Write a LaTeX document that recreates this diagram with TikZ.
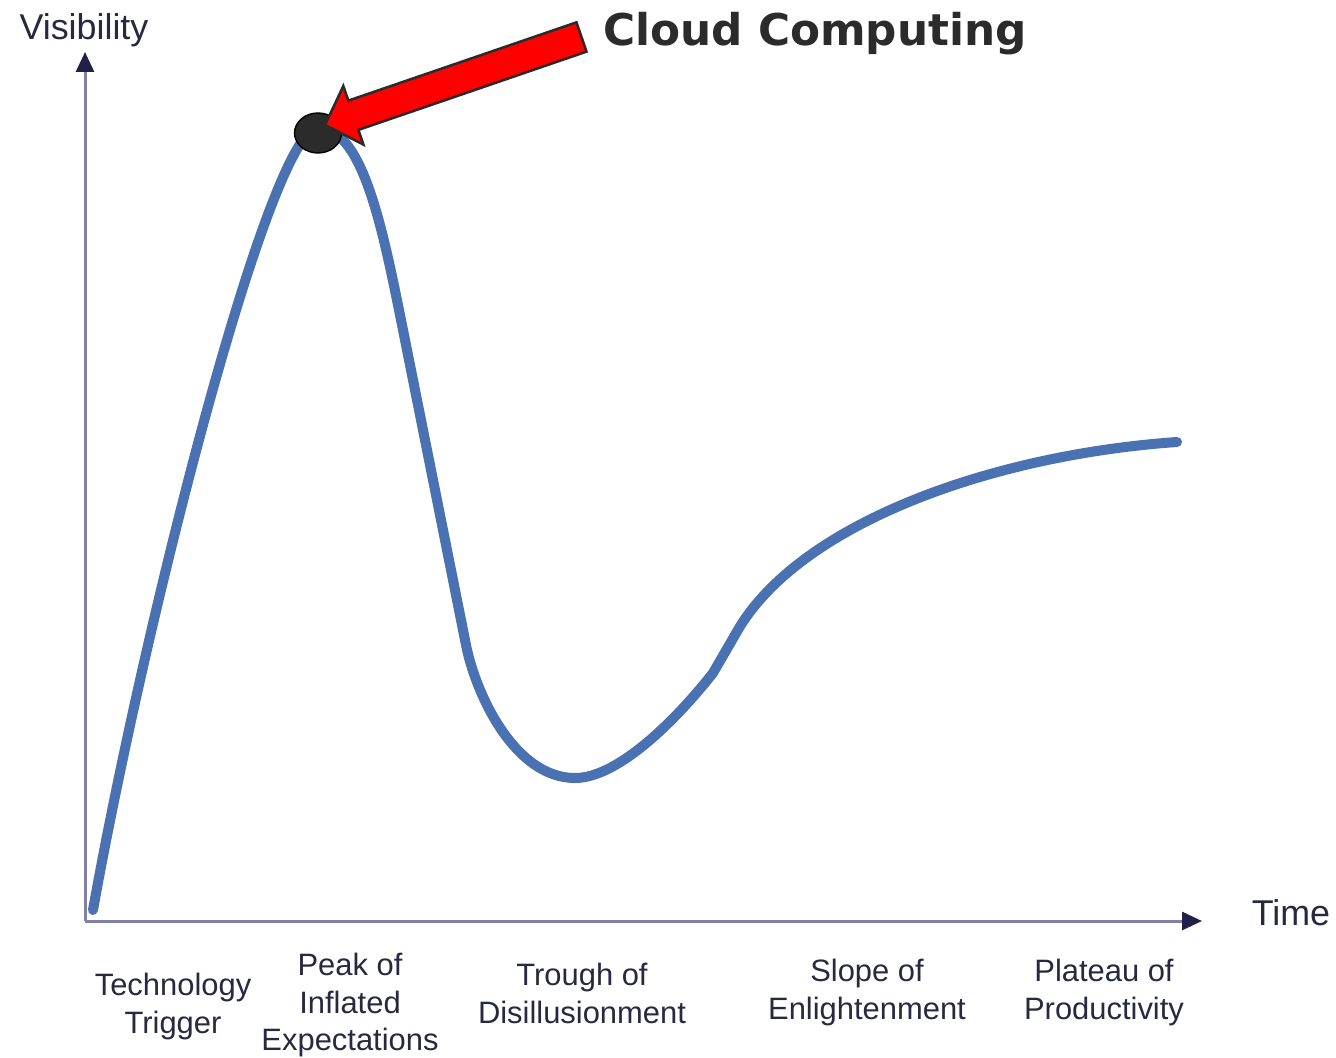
\documentclass[tikz,border=0pt]{standalone}
\usepackage{fontspec}
\setmainfont{Liberation Sans}
\newfontfamily\cloudfont{DejaVu Sans}
\usetikzlibrary{arrows.meta,calc,positioning,shapes.geometric}
\definecolor{hypeblue}{RGB}{74,114,178}
\definecolor{axisgray}{RGB}{128,128,168}
\definecolor{axisnavy}{RGB}{32,32,72}
\definecolor{labelnavy}{RGB}{40,40,64}
\definecolor{calloutgray}{RGB}{43,43,43}
\tikzset{
  axis/.style={draw=axisgray, line width=0.06cm, -{Triangle[length=0.4cm,width=0.36cm,color=axisnavy]}},
  phase/.style={align=center, inner sep=0pt, anchor=north, text=labelnavy, font=\fontsize{17.6}{21.3}\selectfont},
  axlabel/.style={inner sep=0pt, anchor=base, text=labelnavy, font=\fontsize{20.4}{24}\selectfont},
  hype/.style={draw=hypeblue, line width=0.2cm, line cap=round, line join=round},
  marker/.style={ellipse, fill=calloutgray, draw=black, line width=0.8pt, minimum width=0.94cm, minimum height=0.8cm, inner sep=0pt},
  callout/.style={fill=red, draw=calloutgray, line width=0.05cm, line join=miter},
}

\begin{document}
\begin{tikzpicture}[x=0.02cm, y=-0.02cm]
\useasboundingbox (0,0) rectangle (1336,1058);
% axes
\coordinate (origin) at (85,921);
\coordinate (ytop) at (85,52);
\coordinate (xend) at (1202,921);
\draw[axis] (origin) -- (ytop);
\draw[axis] (origin) -- (xend);
\node[axlabel] (vis) at (84,39) {Visibility};
\node[axlabel] (time) at (1291,925) {Time};

% hype curve
\coordinate (start) at (93,910);
\coordinate (top) at (318,128);
\coordinate (fall) at (400,315);
\coordinate (bend) at (466,645);
\coordinate (low) at (575,778);
\coordinate (climb) at (713,673);
\coordinate (knee) at (735,635);
\coordinate (stop) at (1177,442);
\draw[hype] (start) .. controls (145,620) and (270,128) .. (top)
  .. controls (360,128) and (380,215) .. (fall) -- (bend)
  .. controls (476,695) and (515,778) .. (low)
  .. controls (620,778) and (680,715) .. (climb) -- (knee)
  .. controls (795,525) and (990,455) .. (stop);

% phases
\node[phase] (trigger) at (173,973) {Technology\\Trigger};
\node[phase] (peak) at (350,953) {Peak of\\Inflated\\Expectations};
\node[phase] (trough) at (582,963) {Trough of\\Disillusionment};
\node[phase] (slope) at (867,959) {Slope of\\Enlightenment};
\node[phase] (plateau) at (1104,959) {Plateau of\\Productivity};

% marker and callout
\node[marker] (dot) at (318,133) {};
\node[anchor=base west, inner sep=0pt, text=calloutgray, font=\cloudfont\bfseries\fontsize{24.9}{30}\selectfont] (cloud) at (603,45) {Cloud Computing};
\coordinate (tail) at (581.5,37);
\coordinate (tip) at (325,125);
\coordinate (neck) at ($(tip)!0.6cm!(tail)$);
\draw[callout] (tip) -- ($(neck)!0.62cm!90:(tail)$) -- ($(neck)!0.31cm!90:(tail)$)
  -- ($(tail)!0.31cm!-90:(tip)$) -- ($(tail)!0.31cm!90:(tip)$)
  -- ($(neck)!0.31cm!-90:(tail)$) -- ($(neck)!0.62cm!-90:(tail)$) -- cycle;
\end{tikzpicture}
\end{document}
